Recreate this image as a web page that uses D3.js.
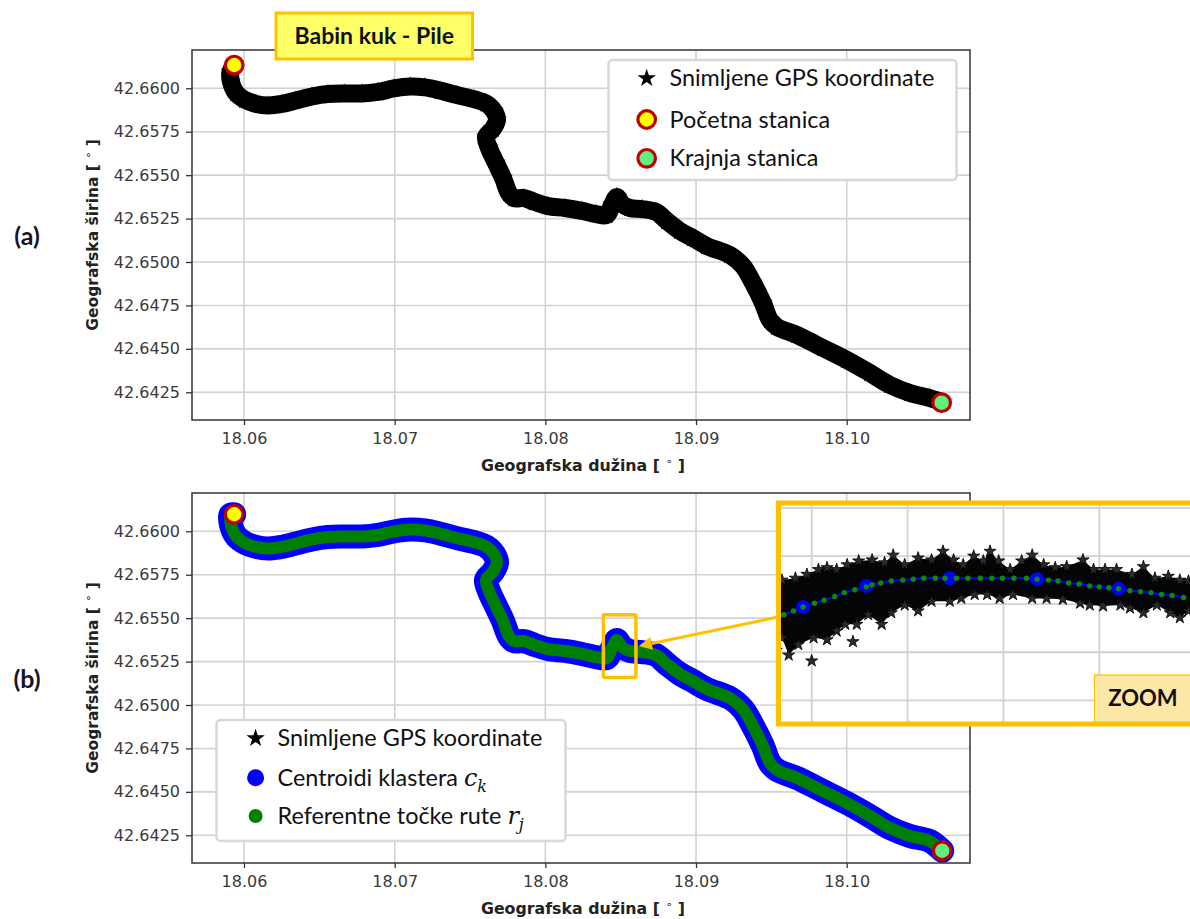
<!DOCTYPE html>
<html><head><meta charset="utf-8">
<script src="https://cdn.jsdelivr.net/npm/d3@7"></script>
<style>body{margin:0;background:#fff}svg{display:block}</style>
</head><body>
<svg id="c" width="1190" height="919"></svg>
<script>
// ---------------- data ----------------
const xTicks = [18.06, 18.07, 18.08, 18.09, 18.10];
const yTicks = [42.6600, 42.6575, 42.6550, 42.6525, 42.6500, 42.6475, 42.6450, 42.6425];

const routeLon = [18.05935,18.05910,18.05914,18.05947,18.06007,18.06080,18.06159,18.06252,18.06345,18.06451,18.06557,18.06670,18.06783,18.06889,18.06995,18.07102,18.07201,18.07301,18.07413,18.07526,18.07606,18.07659,18.07679,18.07652,18.07606,18.07626,18.07672,18.07719,18.07758,18.07792,18.07858,18.07931,18.08017,18.08130,18.08243,18.08336,18.08409,18.08442,18.08475,18.08508,18.08561,18.08641,18.08734,18.08807,18.08893,18.08979,18.09072,18.09225,18.09311,18.09378,18.09444,18.09490,18.09537,18.09670,18.09842,18.10001,18.10154,18.10287,18.10419,18.10552,18.10630];
const routeLat = [42.66134,42.66094,42.66036,42.65973,42.65933,42.65910,42.65901,42.65910,42.65930,42.65953,42.65967,42.65970,42.65970,42.65979,42.65999,42.66010,42.66005,42.65987,42.65961,42.65938,42.65913,42.65869,42.65818,42.65767,42.65720,42.65656,42.65570,42.65484,42.65397,42.65368,42.65368,42.65345,42.65322,42.65311,42.65294,42.65276,42.65271,42.65328,42.65374,42.65334,42.65311,42.65305,42.65288,42.65236,42.65179,42.65138,42.65092,42.65040,42.64977,42.64879,42.64764,42.64666,42.64626,42.64580,42.64505,42.64436,42.64361,42.64292,42.64246,42.64217,42.64194];

const startA = [18.05935, 42.66134], endA = [18.10630, 42.64190];
const startB = [18.05935, 42.66098], endB = [18.10634, 42.64161];

const zoomLon = [18.08385, 18.08601];
const zoomLat = [42.65158, 42.65520];

// inset (zoomed region) data
const insetLonTicks = [18.0845, 18.0846, 18.0847, 18.0848];
const insetLatTicks = [42.65390, 42.65385, 42.65380, 42.65375, 42.65370];
const gpsUpper = [[18.084463,42.653825],[18.084469,42.653825],[18.084483,42.653827],[18.084495,42.653831],[18.084507,42.653836],[18.084516,42.653838],[18.084526,42.653836],[18.084537,42.653841],[18.084549,42.653845],[18.084563,42.653846],[18.084576,42.653843],[18.084585,42.653851],[18.084597,42.653841],[18.084611,42.653848],[18.084625,42.653846],[18.084637,42.653855],[18.084648,42.653846],[18.084658,42.653841],[18.084669,42.653850],[18.084679,42.653845],[18.084686,42.653855],[18.084695,42.653845],[18.084707,42.653836],[18.084719,42.653845],[18.084730,42.653851],[18.084742,42.653841],[18.084754,42.653838],[18.084766,42.653839],[18.084783,42.653846],[18.084794,42.653836],[18.084806,42.653836],[18.084818,42.653836],[18.084834,42.653831],[18.084846,42.653839],[18.084858,42.653827],[18.084872,42.653829],[18.084884,42.653825],[18.084893,42.653824],[18.084900,42.653823]];
const gpsLower = [[18.084463,42.653752],[18.084469,42.653765],[18.084476,42.653747],[18.084486,42.653758],[18.084502,42.653765],[18.084516,42.653763],[18.084526,42.653772],[18.084535,42.653779],[18.084547,42.653779],[18.084559,42.653789],[18.084573,42.653779],[18.084583,42.653791],[18.084597,42.653799],[18.084611,42.653793],[18.084625,42.653803],[18.084644,42.653803],[18.084656,42.653806],[18.084670,42.653810],[18.084683,42.653810],[18.084696,42.653806],[18.084710,42.653810],[18.084730,42.653806],[18.084745,42.653806],[18.084762,42.653805],[18.084780,42.653801],[18.084790,42.653799],[18.084804,42.653798],[18.084822,42.653799],[18.084832,42.653796],[18.084846,42.653791],[18.084860,42.653799],[18.084874,42.653791],[18.084884,42.653786],[18.084893,42.653793],[18.084900,42.653792]];
const gpsOutliers = [[18.084500,42.653741],[18.084543,42.653761]];
const insetCentroids = [[18.084491,42.653797],[18.084557,42.653819],[18.084644,42.653827],[18.084735,42.653826],[18.084820,42.653816]];
const insetRefPoints = [[18.084465,42.653786],[18.084471,42.653789],[18.084481,42.653793],[18.084491,42.653797],[18.084503,42.653801],[18.084513,42.653804],[18.084524,42.653808],[18.084534,42.653812],[18.084545,42.653815],[18.084557,42.653818],[18.084563,42.653820],[18.084572,42.653822],[18.084583,42.653824],[18.084595,42.653825],[18.084606,42.653826],[18.084617,42.653827],[18.084629,42.653827],[18.084639,42.653827],[18.084651,42.653827],[18.084663,42.653827],[18.084676,42.653827],[18.084688,42.653827],[18.084699,42.653827],[18.084711,42.653827],[18.084724,42.653827],[18.084735,42.653826],[18.084747,42.653825],[18.084757,42.653824],[18.084768,42.653822],[18.084779,42.653821],[18.084790,42.653819],[18.084800,42.653818],[18.084810,42.653817],[18.084820,42.653816],[18.084832,42.653814],[18.084843,42.653813],[18.084854,42.653812],[18.084865,42.653810],[18.084876,42.653809],[18.084888,42.653807]];

const legendA = ["Snimljene GPS koordinate", "Početna stanica", "Krajnja stanica"];
const titleText = "Babin kuk - Pile";

// ---------------- layout / style ----------------
const svg = d3.select('#c');
const L = 192, R = 970;
const xDomain = [18.056549, 18.108182], yDomain = [42.640905, 42.662205];
const GRID = '#d2d2d2', AX = '#333';
const ORANGE = '#ffc000', RED = '#c00000', YEL = '#ffff00', LGREEN = '#5ff07e';
const route = d3.zip(routeLon, routeLat);
const routeB = [startB].concat(route.slice(1, -1), [endB]);
const star = s => d3.symbol(d3.symbolStar, s)();

function panel(top, bottom, id) {
  const x = d3.scaleLinear().domain(xDomain).range([L, R]);
  const y = d3.scaleLinear().domain(yDomain).range([bottom, top]);
  svg.append('clipPath').attr('id', id).append('rect')
    .attr('x', L).attr('y', top).attr('width', R - L).attr('height', bottom - top);
  const g = svg.append('g');
  g.selectAll('.vg').data(xTicks).join('line')
    .attr('x1', d => x(d)).attr('x2', d => x(d)).attr('y1', top).attr('y2', bottom)
    .attr('stroke', GRID).attr('stroke-width', 1.6);
  g.selectAll('.hg').data(yTicks).join('line')
    .attr('x1', L).attr('x2', R).attr('y1', d => y(d)).attr('y2', d => y(d))
    .attr('stroke', GRID).attr('stroke-width', 1.6);
  const ax = svg.append('g').attr('transform', `translate(0,${bottom})`)
    .call(d3.axisBottom(x).tickValues(xTicks).tickFormat(d3.format('.2f')).tickSize(5).tickPadding(8));
  const ay = svg.append('g').attr('transform', `translate(${L},0)`)
    .call(d3.axisLeft(y).tickValues(yTicks).tickFormat(d3.format('.4f')).tickSize(6).tickPadding(6));
  [ax, ay].forEach(a => {
    a.select('.domain').remove();
    a.selectAll('line').attr('stroke', AX).attr('stroke-width', 1.3);
    a.selectAll('text').attr('font-family', 'DejaVu Sans').attr('font-size', 16).attr('fill', '#3a3a3a');
  });
  const data = svg.append('g').attr('clip-path', `url(#${id})`);
  return {x, y, data, top, bottom};
}

function frame(p) {
  svg.append('rect').attr('x', L).attr('y', p.top).attr('width', R - L).attr('height', p.bottom - p.top)
    .attr('fill', 'none').attr('stroke', AX).attr('stroke-width', 1.5);
}

function axisTitles(p) {
  const xt = svg.append('text').attr('x', (L + R) / 2 + 2).attr('y', p.bottom + 51)
    .attr('text-anchor', 'middle').attr('font-family', 'DejaVu Sans').attr('font-weight', 'bold')
    .attr('font-size', 15.8).attr('fill', '#222');
  xt.append('tspan').text('Geografska dužina [ ');
  xt.append('tspan').text('∘').attr('font-size', 11).attr('font-weight', 'normal').attr('dy', -6);
  xt.append('tspan').text(' ]').attr('dy', 6);
  const cy = (p.top + p.bottom) / 2;
  const yt = svg.append('text').attr('transform', `translate(98,${cy}) rotate(-90)`)
    .attr('text-anchor', 'middle').attr('font-family', 'DejaVu Sans').attr('font-weight', 'bold')
    .attr('font-size', 15.5).attr('fill', '#222');
  yt.append('tspan').text('Geografska širina [ ');
  yt.append('tspan').text('∘').attr('font-size', 11).attr('font-weight', 'normal').attr('dy', -6);
  yt.append('tspan').text(' ]').attr('dy', 6);
}

function marker(g, x, y, pt, fill) {
  g.append('circle').attr('cx', x(pt[0])).attr('cy', y(pt[1])).attr('r', 8.8)
    .attr('fill', fill).attr('stroke', RED).attr('stroke-width', 3.2);
}

const curve = d3.curveCatmullRom.alpha(0.5);

// ---------------- panel (a) ----------------
const A = panel(50, 420, 'clipA');
const lineA = d3.line().x(d => A.x(d[0])).y(d => A.y(d[1])).curve(curve);
A.data.append('path').attr('d', lineA(route)).attr('fill', 'none').attr('stroke', '#000')
  .attr('stroke-width', 18).attr('stroke-linejoin', 'round').attr('stroke-linecap', 'round');
A.data.selectAll('.st').data(route).join('path')
  .attr('transform', d => `translate(${A.x(d[0])},${A.y(d[1])})`).attr('d', star(120)).attr('fill', '#000');
marker(A.data, A.x, A.y, startA, YEL);
marker(A.data, A.x, A.y, endA, LGREEN);
frame(A);
axisTitles(A);

// ---------------- panel (b) ----------------
const B = panel(493, 863, 'clipB');
const lineB = d3.line().x(d => B.x(d[0])).y(d => B.y(d[1])).curve(curve);
B.data.append('path').attr('d', lineB(routeB)).attr('fill', 'none').attr('stroke', '#0000ff')
  .attr('stroke-width', 24).attr('stroke-linejoin', 'round').attr('stroke-linecap', 'round');
B.data.append('path').attr('d', lineB(routeB)).attr('fill', 'none').attr('stroke', '#008000')
  .attr('stroke-width', 12).attr('stroke-linejoin', 'round').attr('stroke-linecap', 'round');
marker(B.data, B.x, B.y, startB, YEL);
marker(B.data, B.x, B.y, endB, LGREEN);
frame(B);
axisTitles(B);

// zoom region box
const zx0 = B.x(zoomLon[0]), zx1 = B.x(zoomLon[1]), zy0 = B.y(zoomLat[1]), zy1 = B.y(zoomLat[0]);
svg.append('rect').attr('x', zx0).attr('y', zy0).attr('width', zx1 - zx0).attr('height', zy1 - zy0)
  .attr('fill', 'none').attr('stroke', ORANGE).attr('stroke-width', 3.5).attr('rx', 1.5);

// ---------------- legends ----------------
function legendBox(x0, y0, w, h) {
  svg.append('rect').attr('x', x0).attr('y', y0).attr('width', w).attr('height', h).attr('rx', 4)
    .attr('fill', '#fff').attr('stroke', '#d8d8d8').attr('stroke-width', 2.5);
}
const LF = 'Lato, "Open Sans", sans-serif';
const LFS = 23.4;
// legend (a)
legendBox(608.5, 60, 348, 120);
const legA = svg.append('g');
const rowsA = [78.3, 119.5, 158.3];
legA.append('path').attr('transform', `translate(646.7,${rowsA[0]})`).attr('d', star(105)).attr('fill', '#000');
legA.append('circle').attr('cx', 646.7).attr('cy', rowsA[1]).attr('r', 8.8).attr('fill', YEL).attr('stroke', RED).attr('stroke-width', 3.2);
legA.append('circle').attr('cx', 646.7).attr('cy', rowsA[2]).attr('r', 8.8).attr('fill', LGREEN).attr('stroke', RED).attr('stroke-width', 3.2);
legA.selectAll('text').data(legendA).join('text').attr('x', 669.5).attr('y', (d, i) => rowsA[i])
  .attr('dy', '0.35em').attr('font-family', LF).attr('font-size', LFS).attr('fill', '#111').text(d => d);

// legend (b)
legendBox(216.5, 720, 349, 121);
const legB = svg.append('g');
const rowsB = [738.3, 777.7, 816];
legB.append('path').attr('transform', `translate(255.6,${rowsB[0]})`).attr('d', star(105)).attr('fill', '#000');
legB.append('circle').attr('cx', 255.6).attr('cy', rowsB[1]).attr('r', 8.5).attr('fill', '#0000ff');
legB.append('circle').attr('cx', 255.6).attr('cy', rowsB[2]).attr('r', 7).attr('fill', '#008000');
legB.append('text').attr('x', 277.5).attr('y', rowsB[0]).attr('dy', '0.35em').attr('font-family', LF)
  .attr('font-size', LFS).attr('fill', '#111').text(legendA[0]);
const t2 = legB.append('text').attr('x', 277.5).attr('y', rowsB[1]).attr('dy', '0.35em').attr('font-family', LF)
  .attr('font-size', LFS).attr('fill', '#111');
t2.append('tspan').text('Centroidi klastera ');
t2.append('tspan').text('c').attr('font-family', 'DejaVu Serif').attr('font-style', 'italic').attr('font-size', 24);
t2.append('tspan').text('k').attr('font-family', 'DejaVu Serif').attr('font-style', 'italic').attr('font-size', 16).attr('dy', 6);
const t3 = legB.append('text').attr('x', 277.5).attr('y', rowsB[2]).attr('dy', '0.35em').attr('font-family', LF)
  .attr('font-size', LFS).attr('fill', '#111');
t3.append('tspan').text('Referentne točke rute ');
t3.append('tspan').text('r').attr('font-family', 'DejaVu Serif').attr('font-style', 'italic').attr('font-size', 24);
t3.append('tspan').text('j').attr('font-family', 'DejaVu Serif').attr('font-style', 'italic').attr('font-size', 16).attr('dy', 6);

// ---------------- inset ----------------
const ix = d3.scaleLinear().domain([18.0845, 18.0848]).range([811.7, 1099.3]);
const iy = d3.scaleLinear().domain([42.6539, 42.6537]).range([508, 700.3]);
svg.append('clipPath').attr('id', 'clipI').append('rect').attr('x', 780).attr('y', 505).attr('width', 420).attr('height', 217);
const ig = svg.append('g').attr('clip-path', 'url(#clipI)');
ig.append('rect').attr('x', 778).attr('y', 503).attr('width', 420).attr('height', 221).attr('fill', '#fff');
ig.selectAll('.ivg').data(insetLonTicks).join('line').attr('x1', d => ix(d)).attr('x2', d => ix(d))
  .attr('y1', 503).attr('y2', 724).attr('stroke', GRID).attr('stroke-width', 1.8);
ig.selectAll('.ihg').data(insetLatTicks).join('line').attr('y1', d => iy(d)).attr('y2', d => iy(d))
  .attr('x1', 778).attr('x2', 1200).attr('stroke', GRID).attr('stroke-width', 1.8);
const band = gpsUpper.concat(gpsLower.slice().reverse());
ig.append('path').attr('d', d3.line().x(d => ix(d[0])).y(d => iy(d[1])).curve(d3.curveLinearClosed)(band))
  .attr('fill', '#050505');
ig.selectAll('.gs').data(gpsUpper.concat(gpsLower, gpsOutliers)).join('path')
  .attr('transform', d => `translate(${ix(d[0])},${iy(d[1])})`).attr('d', star(46))
  .attr('fill', '#2a2a2a').attr('stroke', '#000').attr('stroke-width', 0.8);
ig.append('path').attr('d', d3.line().x(d => ix(d[0])).y(d => iy(d[1])).curve(d3.curveCatmullRom)(insetRefPoints))
  .attr('fill', 'none').attr('stroke', '#0000ff').attr('stroke-width', 2.2);
ig.selectAll('.ic').data(insetCentroids).join('circle').attr('cx', d => ix(d[0])).attr('cy', d => iy(d[1]))
  .attr('r', 7).attr('fill', '#0000ff');
ig.selectAll('.ir').data(insetRefPoints).join('circle').attr('cx', d => ix(d[0])).attr('cy', d => iy(d[1]))
  .attr('r', 2.7).attr('fill', '#0a8a0a');
// ZOOM label
ig.append('rect').attr('x', 1094.5).attr('y', 675).attr('width', 110).attr('height', 50)
  .attr('fill', '#fde7a7').attr('stroke', ORANGE).attr('stroke-width', 1.2);
svg.append('text').attr('x', 1143).attr('y', 706).attr('text-anchor', 'middle').attr('font-family', LF)
  .attr('font-weight', 'bold').attr('font-size', 22).attr('fill', '#111').text('ZOOM');
svg.append('rect').attr('x', 778.5).attr('y', 503).attr('width', 430).attr('height', 221)
  .attr('fill', 'none').attr('stroke', ORANGE).attr('stroke-width', 5);

// arrow from inset to zoom region
const ax0 = 778, ay0 = 617, ax1 = zx1 + 3, ay1 = (zy0 + zy1) / 2;
const ang = Math.atan2(ay1 - ay0, ax1 - ax0), hl = 13, hw = 6.5;
const bx = ax1 - hl * Math.cos(ang), by = ay1 - hl * Math.sin(ang);
svg.append('line').attr('x1', ax0).attr('y1', ay0).attr('x2', bx).attr('y2', by)
  .attr('stroke', ORANGE).attr('stroke-width', 3);
svg.append('path').attr('d', `M${ax1},${ay1}L${bx - hw * Math.sin(ang)},${by + hw * Math.cos(ang)}L${bx + hw * Math.sin(ang)},${by - hw * Math.cos(ang)}Z`)
  .attr('fill', ORANGE);

// ---------------- title box & panel labels ----------------
svg.append('rect').attr('x', 276).attr('y', 13).attr('width', 196.5).attr('height', 46)
  .attr('fill', '#ffff66').attr('stroke', ORANGE).attr('stroke-width', 3);
svg.append('text').attr('x', 374.3).attr('y', 44).attr('text-anchor', 'middle').attr('font-family', LF)
  .attr('font-weight', 'bold').attr('font-size', 23).attr('fill', '#111').text(titleText);
svg.append('text').attr('x', 27).attr('y', 245).attr('text-anchor', 'middle').attr('font-family', LF)
  .attr('font-weight', 'bold').attr('font-size', 25).attr('fill', '#16162c').text('(a)');
svg.append('text').attr('x', 27).attr('y', 688).attr('text-anchor', 'middle').attr('font-family', LF)
  .attr('font-weight', 'bold').attr('font-size', 25).attr('fill', '#16162c').text('(b)');
</script>
</body></html>
